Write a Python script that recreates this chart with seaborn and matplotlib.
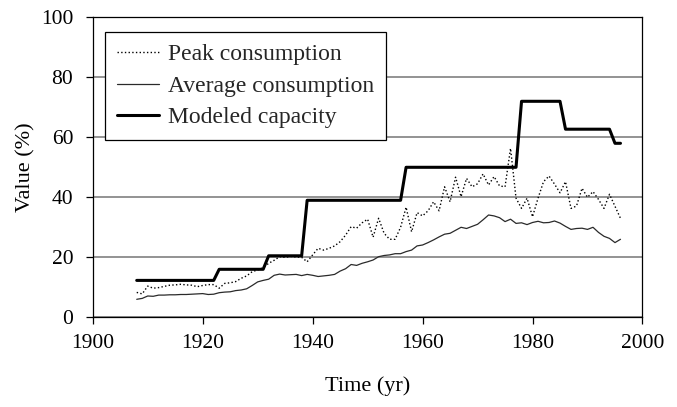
import pandas as pd
import matplotlib
matplotlib.use("Agg")
import matplotlib.pyplot as plt
import seaborn as sns

# yearly values
years = list(range(1908, 1997))

peak = [8.3, 7.8, 10.4, 9.7, 9.9, 10.3, 10.7, 10.8, 11.0, 10.8,
        10.7, 10.2, 10.6, 10.9, 10.9, 9.7, 11.3, 11.5, 11.9, 13.0,
        13.8, 15.2, 15.8, 16.5, 18.0, 19.0, 20.2, 20.0, 20.3, 20.1,
        20.0, 18.5, 20.8, 23.0, 22.4, 23.0, 23.8, 25.2, 27.4, 30.2,
        29.7, 31.5, 32.7, 26.7, 33.0, 28.0, 26.0, 26.0, 30.0, 36.7,
        28.5, 34.9, 33.8, 35.5, 38.5, 35.5, 43.5, 38.5, 46.7, 40.2,
        46.3, 43.5, 44.5, 47.8, 44.1, 46.9, 43.8, 43.5, 56.3, 39.7,
        36.3, 39.7, 33.5, 39.7, 45.2, 47.1, 44.4, 41.5, 45.2, 36.3,
        37.1, 43.0, 40.0, 41.9, 39.3, 36.3, 41.0, 37.0, 33.0]

average = [6.0, 6.3, 7.1, 7.0, 7.4, 7.4, 7.5, 7.5, 7.6, 7.6,
           7.7, 7.8, 7.9, 7.6, 7.7, 8.2, 8.4, 8.5, 8.9, 9.1,
           9.5, 10.6, 11.8, 12.3, 12.7, 14.0, 14.4, 14.1, 14.2, 14.3,
           13.9, 14.3, 14.0, 13.6, 13.8, 14.0, 14.3, 15.4, 16.2, 17.6,
           17.3, 18.0, 18.5, 19.1, 20.2, 20.6, 20.8, 21.2, 21.2, 21.9,
           22.4, 23.8, 24.1, 24.9, 25.8, 26.8, 27.7, 28.0, 29.0, 30.0,
           29.6, 30.3, 31.0, 32.5, 34.1, 33.8, 33.2, 31.9, 32.7, 31.3,
           31.5, 30.9, 31.6, 32.0, 31.5, 31.6, 32.1, 31.4, 30.3, 29.3,
           29.6, 29.7, 29.3, 30.0, 28.3, 27.0, 26.3, 24.9, 26.0]

capacity = ([12.3] * 15 + [16.0] * 9 + [20.5] * 7 + [39.0] * 18
            + [50.0] * 21 + [72.0] * 8 + [62.7] * 9 + [58.0] * 2)

labels = ["Peak consumption", "Average consumption", "Modeled capacity"]

sns.set_theme(style="white")
plt.rcParams['font.family'] = ['Liberation Serif', 'DejaVu Serif']

df = pd.DataFrame({"Year": years, "Peak": peak,
                   "Average": average, "Capacity": capacity})

fig = plt.figure(figsize=(6.77, 4.07), dpi=100)
ax = fig.add_axes([0.137, 0.2204, 0.812, 0.7371])

sns.lineplot(data=df, x="Year", y="Peak", ax=ax, color="black",
             linestyle=":", linewidth=1.0, label=labels[0], zorder=3)
sns.lineplot(data=df, x="Year", y="Average", ax=ax, color="#2a2a2a",
             linewidth=0.9, label=labels[1], zorder=3)
sns.lineplot(data=df, x="Year", y="Capacity", ax=ax, color="black",
             linewidth=2.2, label=labels[2], zorder=4)

ax.set_xlim(1900, 2000)
ax.set_ylim(0, 100)
ax.set_xticks(range(1900, 2001, 20))
ax.set_yticks(range(0, 101, 20))
ax.yaxis.grid(True, color="#808080", linewidth=1.2)
ax.xaxis.grid(False)
ax.set_axisbelow(True)

for s in ax.spines.values():
    s.set_color("black")
    s.set_linewidth(0.9)

ax.tick_params(axis="both", direction="out", length=5, width=0.9,
               color="black", labelsize=15.5, labelcolor="black",
               bottom=True, left=True)
ax.tick_params(axis="y", pad=9)
ax.tick_params(axis="x", pad=7)
ax.set_xlabel("Time (yr)", fontsize=16, color="black", labelpad=17)
ax.set_ylabel("Value (%)", fontsize=16, color="black", labelpad=4)

leg = ax.legend(loc="upper left", bbox_to_anchor=(0.0224, 0.951),
                borderaxespad=0, fontsize=17, frameon=True, fancybox=False,
                framealpha=1, edgecolor="black", handlelength=1.8,
                handletextpad=0.38, labelspacing=0.42, borderpad=0.5)
leg.get_frame().set_linewidth(0.9)

fig.savefig("out.png", dpi=100)
